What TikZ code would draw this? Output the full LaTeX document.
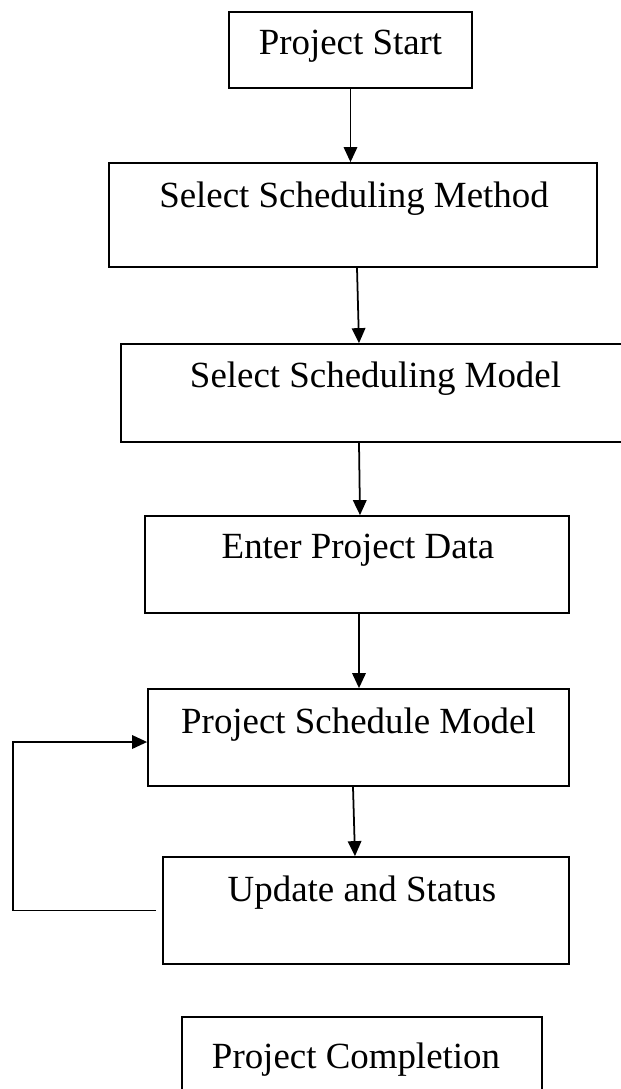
\documentclass[tikz,border=0pt]{standalone}
\usepackage{fontspec}
\setmainfont{Liberation Serif}
\usetikzlibrary{arrows.meta}

\begin{document}
\begin{tikzpicture}[scale=1.0,
 stepbox/.style={draw,line width=1pt,inner sep=0pt},
 steptext/.style={anchor=base,inner sep=0pt,font=\fontsize{21}{25}\selectfont},
 flow/.style={->,line width=1pt},
 >={Triangle[length=0.3cm,width=0.27cm]}]
 \useasboundingbox (0,0) rectangle (12.42,-21.78);
 \clip (0,0) rectangle (12.42,-21.78);
 \node[stepbox,minimum width=4.86cm,minimum height=1.52cm] (start) at (7.01,-1.00) {};
 \node[steptext] (start-t) at ([yshift=-0.86cm]start.north) {Project Start};
 \node[stepbox,minimum width=9.76cm,minimum height=2.08cm] (method) at (7.06,-4.30) {};
 \node[steptext] (method-t) at ([xshift=0.02cm,yshift=-0.90cm]method.north) {Select Scheduling Method};
 \node[stepbox,minimum width=10.18cm,minimum height=1.96cm] (model) at (7.51,-7.86) {};
 \node[steptext] (model-t) at ([yshift=-0.88cm]model.north) {Select Scheduling Model};
 \node[stepbox,minimum width=8.48cm,minimum height=1.94cm] (data) at (7.14,-11.29) {};
 \node[steptext] (data-t) at ([xshift=0.02cm,yshift=-0.86cm]data.north) {Enter Project Data};
 \node[stepbox,minimum width=8.42cm,minimum height=1.94cm] (sched) at (7.17,-14.75) {};
 \node[steptext] (sched-t) at ([yshift=-0.90cm]sched.north) {Project Schedule Model};
 \node[stepbox,minimum width=8.12cm,minimum height=2.14cm] (update) at (7.32,-18.21) {};
 \node[steptext] (update-t) at ([xshift=-0.08cm,yshift=-0.90cm]update.north) {Update and Status};
 \node[stepbox,minimum width=7.20cm,minimum height=1.66cm] (finish) at (7.24,-21.17) {};
 \node[steptext] (finish-t) at ([xshift=-0.12cm,yshift=-1.04cm]finish.north) {Project Completion};
 \coordinate (loop) at (0.26,-14.84);
 \draw[flow] (start.south) -- (start.south |- method.north);
 \draw[flow] ([xshift=0.08cm]method.south) -- ([xshift=-0.33cm]model.north);
 \draw[flow] ([xshift=-0.33cm]model.south) -- ([xshift=0.06cm]data.north);
 \draw[flow] ([xshift=0.04cm]data.south) -- ([xshift=0.04cm]data.south |- sched.north);
 \draw[flow] ([xshift=-0.11cm]sched.south) -- ([xshift=-0.22cm]update.north);
 \draw[flow] ([xshift=-0.12cm]update.west) -| (loop) -- (loop -| sched.west);
\end{tikzpicture}
\end{document}
